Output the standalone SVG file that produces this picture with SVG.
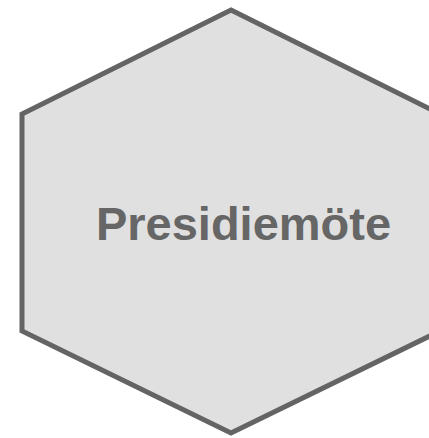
<svg xmlns="http://www.w3.org/2000/svg" width="429" height="438" viewBox="0 0 429 438">
<style>
.hex{fill:#e0e0e0;stroke:#646464;stroke-width:5;stroke-linejoin:miter}
.lbl{font-family:"Liberation Sans",Arial,sans-serif;font-weight:bold;font-size:47px;fill:#666666;text-anchor:middle}
</style>
<g id="node-presidiemote">
<polygon class="hex" points="231,10 440,114 440,331 231,433 22,331 22,114"/>
<text class="lbl" x="243.5" y="240">Presidiemöte</text>
</g>
<g id="connectors"></g>
</svg>
